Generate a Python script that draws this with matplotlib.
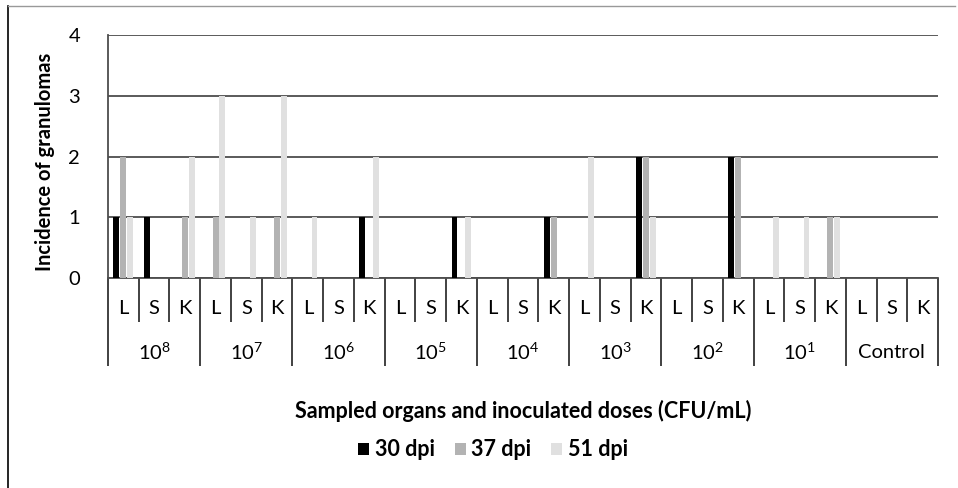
import numpy as np
import matplotlib
matplotlib.use('Agg')
import matplotlib.pyplot as plt
from matplotlib.lines import Line2D
from matplotlib.patches import Patch

plt.rcParams['font.family'] = ['Lato', 'DejaVu Sans']
plt.rcParams['mathtext.rm'] = 'Lato'
plt.rcParams['mathtext.it'] = 'Lato'

# categories
organs = ['L', 'S', 'K']
doses = ['$10^8$', '$10^7$', '$10^6$', '$10^5$', '$10^4$',
         '$10^3$', '$10^2$', '$10^1$', 'Control']

# incidence of granulomas per organ (dose groups in order, L/S/K within)
dpi30 = [1, 1, 0,  0, 0, 0,  0, 0, 1,  0, 0, 1,  0, 0, 1,  0, 0, 2,  0, 0, 2,  0, 0, 0,  0, 0, 0]
dpi37 = [2, 0, 1,  1, 0, 1,  0, 0, 0,  0, 0, 0,  0, 0, 1,  0, 0, 2,  0, 0, 2,  0, 0, 1,  0, 0, 0]
dpi51 = [1, 0, 2,  3, 1, 3,  1, 0, 2,  0, 0, 1,  0, 0, 0,  2, 0, 1,  0, 0, 0,  1, 1, 1,  0, 0, 0]
series_labels = ['30 dpi', '37 dpi', '51 dpi']

colors = ['#000000', '#b3b3b3', '#e0e0e0']
offsets = [-0.23, 0.0, 0.22]
bar_width = 0.19
fs = 14.5

fig = plt.figure(figsize=(9.58, 4.88), dpi=100)
W, H = 958, 488
ax = fig.add_axes([108 / W, 1 - 278 / H, 830 / W, 243 / H])

n = len(dpi30)
x = np.arange(n)
for vals, c, off, lab in zip([dpi30, dpi37, dpi51], colors, offsets, series_labels):
    ax.bar(x + off, vals, width=bar_width, color=c, label=lab, zorder=3)

ax.set_xlim(-0.5, n - 0.5)
ax.set_ylim(0, 4)
ax.set_yticks([0, 1, 2, 3, 4])
ax.yaxis.grid(True, color='#4d4d4d', linewidth=1.3, zorder=1)
ax.tick_params(axis='y', length=0, pad=20, labelsize=fs)
for s in ['top', 'right']:
    ax.spines[s].set_visible(False)
for s in ['left', 'bottom']:
    ax.spines[s].set_color('#4d4d4d')
    ax.spines[s].set_linewidth(1.3)

# category axis: short ticks between organs, long ticks between dose groups
bounds = np.arange(n + 1) - 0.5
ax.set_xticks(bounds[::3])
ax.set_xticklabels([])
ax.set_xticks([b for i, b in enumerate(bounds) if i % 3 != 0], minor=True)
ax.tick_params(axis='x', which='major', length=63, width=1.3, color='#333333', direction='out')
ax.tick_params(axis='x', which='minor', length=32, width=1.3, color='#333333', direction='out')

tr = ax.get_xaxis_transform()
for i in range(n):
    ax.text(i, -0.125, organs[i % 3], transform=tr, ha='center', va='center', fontsize=fs)
for g, d in enumerate(doses):
    ax.text(3 * g + 1, -0.305, d, transform=tr, ha='center', va='center', fontsize=fs,
            math_fontfamily='custom' if d.startswith('$') else None)

fig.text(45 / W, 1 - 162 / H, 'Incidence of granulomas', rotation=90,
         ha='center', va='center', fontsize=fs, fontweight='bold')
fig.text(523 / W, 1 - 411 / H, 'Sampled organs and inoculated doses (CFU/mL)',
         ha='center', va='center', fontsize=15.5, fontweight='bold')

handles = [Patch(facecolor=c) for c in colors]
leg = fig.legend(handles, series_labels, ncol=3, frameon=False, loc='center',
                 bbox_to_anchor=(493 / W, 1 - 450 / H), handlelength=0.5, handleheight=0.5,
                 handletextpad=0.25, columnspacing=0.95, prop={'weight': 'bold', 'size': 15.5})

# outer chart frame (top and left edges visible)
fig.add_artist(Line2D([8 / W, 8 / W], [0, 1 - 6 / H], color='#000000', linewidth=1.2))
fig.add_artist(Line2D([8 / W, 955 / W], [1 - 6 / H, 1 - 6 / H], color='#999999', linewidth=1.0))

fig.savefig('out.png', dpi=100)
